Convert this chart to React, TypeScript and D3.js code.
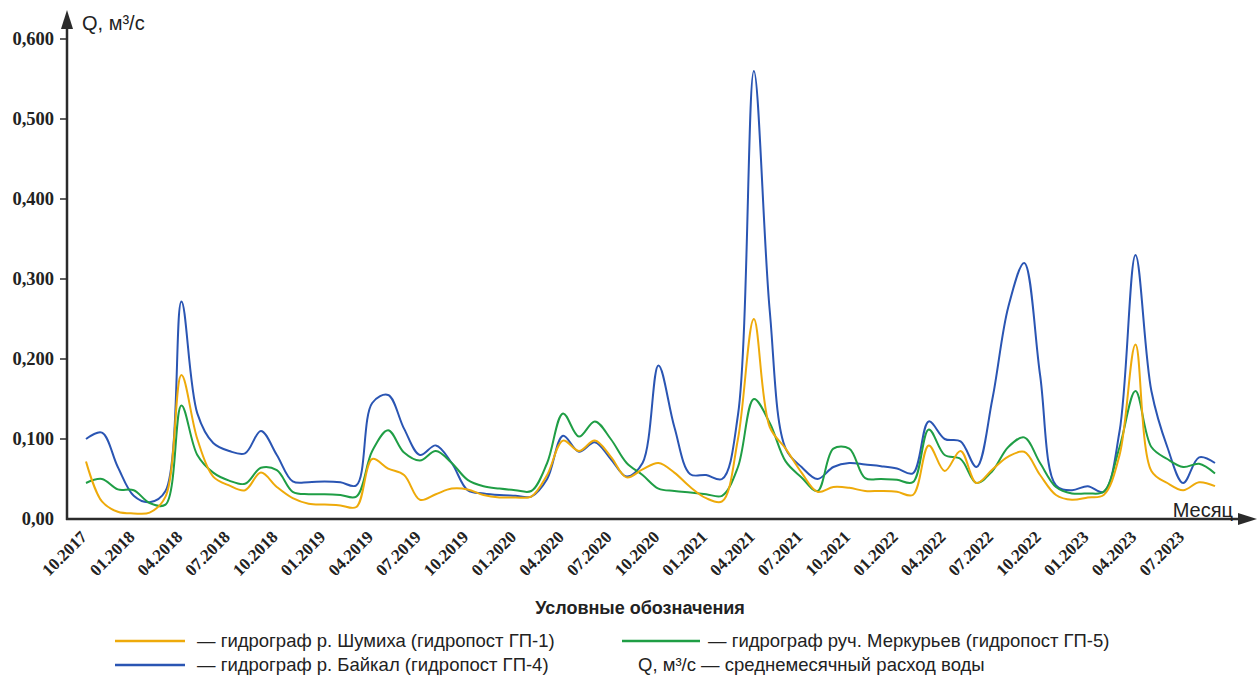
import React from "react";
import * as d3 from "d3";

const months = [
  "10.2017","11.2017","12.2017",
  "01.2018","02.2018","03.2018","04.2018","05.2018","06.2018","07.2018","08.2018","09.2018","10.2018","11.2018","12.2018",
  "01.2019","02.2019","03.2019","04.2019","05.2019","06.2019","07.2019","08.2019","09.2019","10.2019","11.2019","12.2019",
  "01.2020","02.2020","03.2020","04.2020","05.2020","06.2020","07.2020","08.2020","09.2020","10.2020","11.2020","12.2020",
  "01.2021","02.2021","03.2021","04.2021","05.2021","06.2021","07.2021","08.2021","09.2021","10.2021","11.2021","12.2021",
  "01.2022","02.2022","03.2022","04.2022","05.2022","06.2022","07.2022","08.2022","09.2022","10.2022","11.2022","12.2022",
  "01.2023","02.2023","03.2023","04.2023","05.2023","06.2023","07.2023","08.2023","09.2023",
];

const xTickLabels = [
  "10.2017","01.2018","04.2018","07.2018","10.2018","01.2019","04.2019","07.2019",
  "10.2019","01.2020","04.2020","07.2020","10.2020","01.2021","04.2021","07.2021",
  "10.2021","01.2022","04.2022","07.2022","10.2022","01.2023","04.2023","07.2023",
];

const yTickValues = [0, 0.1, 0.2, 0.3, 0.4, 0.5, 0.6];
const yTickLabels = ["0,00", "0,100", "0,200", "0,300", "0,400", "0,500", "0,600"];

// ГП-1 р. Шумиха
const shumikha = [
  0.072,0.022,0.009,0.007,0.008,0.028,0.180,0.100,0.053,0.042,
  0.036,0.058,0.040,0.026,0.019,0.018,0.017,0.015,0.075,0.063,
  0.055,0.024,0.031,0.038,0.037,0.030,0.027,0.027,0.028,0.055,
  0.098,0.085,0.098,0.078,0.052,0.062,0.070,0.058,0.040,0.026,
  0.022,0.100,0.250,0.115,0.088,0.058,0.034,0.040,0.039,0.035,
  0.035,0.034,0.030,0.092,0.060,0.085,0.045,0.062,0.078,0.084,
  0.055,0.030,0.024,0.027,0.030,0.080,0.218,0.060,0.045,0.036,
  0.046,0.041,
];

// ГП-4 р. Байкал
const baikal = [
  0.100,0.108,0.065,0.029,0.021,0.035,0.272,0.132,0.095,0.085,
  0.082,0.110,0.080,0.047,0.046,0.047,0.046,0.042,0.145,0.155,
  0.113,0.080,0.092,0.070,0.036,0.032,0.030,0.029,0.028,0.050,
  0.104,0.084,0.096,0.075,0.053,0.070,0.192,0.115,0.056,0.055,
  0.050,0.130,0.560,0.260,0.088,0.065,0.050,0.065,0.070,0.068,
  0.066,0.063,0.057,0.122,0.100,0.097,0.065,0.150,0.265,0.320,
  0.180,0.042,0.036,0.041,0.034,0.110,0.330,0.160,0.090,0.045,
  0.077,0.070,
];

// ГП-5 руч. Меркурьев
const merkuryev = [
  0.045,0.050,0.037,0.036,0.020,0.018,0.142,0.080,0.058,0.048,
  0.044,0.064,0.061,0.034,0.031,0.031,0.030,0.028,0.085,0.111,
  0.083,0.073,0.085,0.070,0.049,0.041,0.038,0.036,0.035,0.070,
  0.132,0.103,0.122,0.100,0.070,0.055,0.038,0.035,0.033,0.031,
  0.029,0.065,0.150,0.120,0.072,0.052,0.035,0.088,0.088,0.051,
  0.050,0.049,0.046,0.112,0.080,0.075,0.045,0.060,0.090,0.102,
  0.070,0.040,0.032,0.032,0.034,0.090,0.160,0.090,0.075,0.065,
  0.069,0.057,
];

const seriesList = [
  { name: "baikal", values: baikal, color: "#2a55b3" },
  { name: "merkuryev", values: merkuryev, color: "#1f9e45" },
  { name: "shumikha", values: shumikha, color: "#eeaa0a" },
];

const W = 1260;
const H = 677;
const x0 = 67;
const y0 = 519;

export default function App() {
  const x = d3.scalePoint<string>().domain(months).range([86, 1215]);
  const y = d3.scaleLinear().domain([0, 0.6]).range([y0, 39]);

  const line = d3
    .line<number>()
    .x((_, i) => x(months[i]) as number)
    .y((d) => y(d))
    .curve(d3.curveCatmullRom.alpha(0.5));

  const axisColor = "#2b2b2b";
  const serif = "'Liberation Serif', 'Times New Roman', serif";
  const sans = "'Liberation Sans', Arial, sans-serif";

  return (
    <div style={{ position: "absolute", left: 0, top: 0 }}>
      <svg width={W} height={H} style={{ display: "block", background: "#fff" }}>
        {seriesList.map((s) => (
          <path
            key={s.name}
            d={line(s.values) || ""}
            fill="none"
            stroke={s.color}
            strokeWidth={2}
            strokeLinejoin="round"
          />
        ))}

        {/* y axis */}
        <line x1={x0} y1={y0 + 1} x2={x0} y2={24} stroke={axisColor} strokeWidth={2.5} />
        <path d={`M${x0},10 L${x0 - 6},29 L${x0 + 6},29 Z`} fill={axisColor} />
        {yTickValues.map((v, i) => (
          <g key={v}>
            {i > 0 && (
              <line x1={x0 - 7} x2={x0} y1={y(v)} y2={y(v)} stroke={axisColor} strokeWidth={1.5} />
            )}
            <text
              x={54}
              y={y(v)}
              dy="0.35em"
              textAnchor="end"
              fontFamily={serif}
              fontWeight="bold"
              fontSize={18.5}
              fill="#222"
            >
              {yTickLabels[i]}
            </text>
          </g>
        ))}
        <text x={82} y={30} fontFamily={sans} fontSize={20} fill="#222">
          Q, м³/с
        </text>

        {/* x axis */}
        <line x1={x0 - 1} y1={y0} x2={1242} y2={y0} stroke={axisColor} strokeWidth={2.5} />
        <path d={`M1257,${y0} L1238,${y0 - 6} L1238,${y0 + 6} Z`} fill={axisColor} />
        {xTickLabels.map((lab) => {
          const px = x(lab) as number;
          return (
            <text
              key={lab}
              transform={`translate(${px + 2},${y0 + 19}) rotate(-45)`}
              textAnchor="end"
              fontFamily={serif}
              fontWeight="bold"
              fontSize={17}
              fill="#222"
            >
              {lab}
            </text>
          );
        })}
        <text x={1233} y={517} textAnchor="end" fontFamily={sans} fontSize={20} fill="#222">
          Месяц
        </text>

        {/* legend */}
        <text x={640} y={614} textAnchor="middle" fontFamily={sans} fontWeight="bold" fontSize={18} fill="#222">
          Условные обозначения
        </text>
        <line x1={115} x2={185} y1={641} y2={641} stroke="#eeaa0a" strokeWidth={2.5} />
        <text x={197} y={647} fontFamily={sans} fontSize={18.5} fill="#222">
          — гидрограф р. Шумиха (гидропост ГП-1)
        </text>
        <line x1={115} x2={185} y1={665} y2={665} stroke="#2a55b3" strokeWidth={2.5} />
        <text x={197} y={671} fontFamily={sans} fontSize={18.5} fill="#222">
          — гидрограф р. Байкал (гидропост ГП-4)
        </text>
        <line x1={622} x2={700} y1={641} y2={641} stroke="#1f9e45" strokeWidth={2.5} />
        <text x={708} y={647} fontFamily={sans} fontSize={18.5} fill="#222">
          — гидрограф руч. Меркурьев (гидропост ГП-5)
        </text>
        <text x={638} y={671} fontFamily={sans} fontSize={18.5} fill="#222">
          Q, м³/с — среднемесячный расход воды
        </text>
      </svg>
    </div>
  );
}
